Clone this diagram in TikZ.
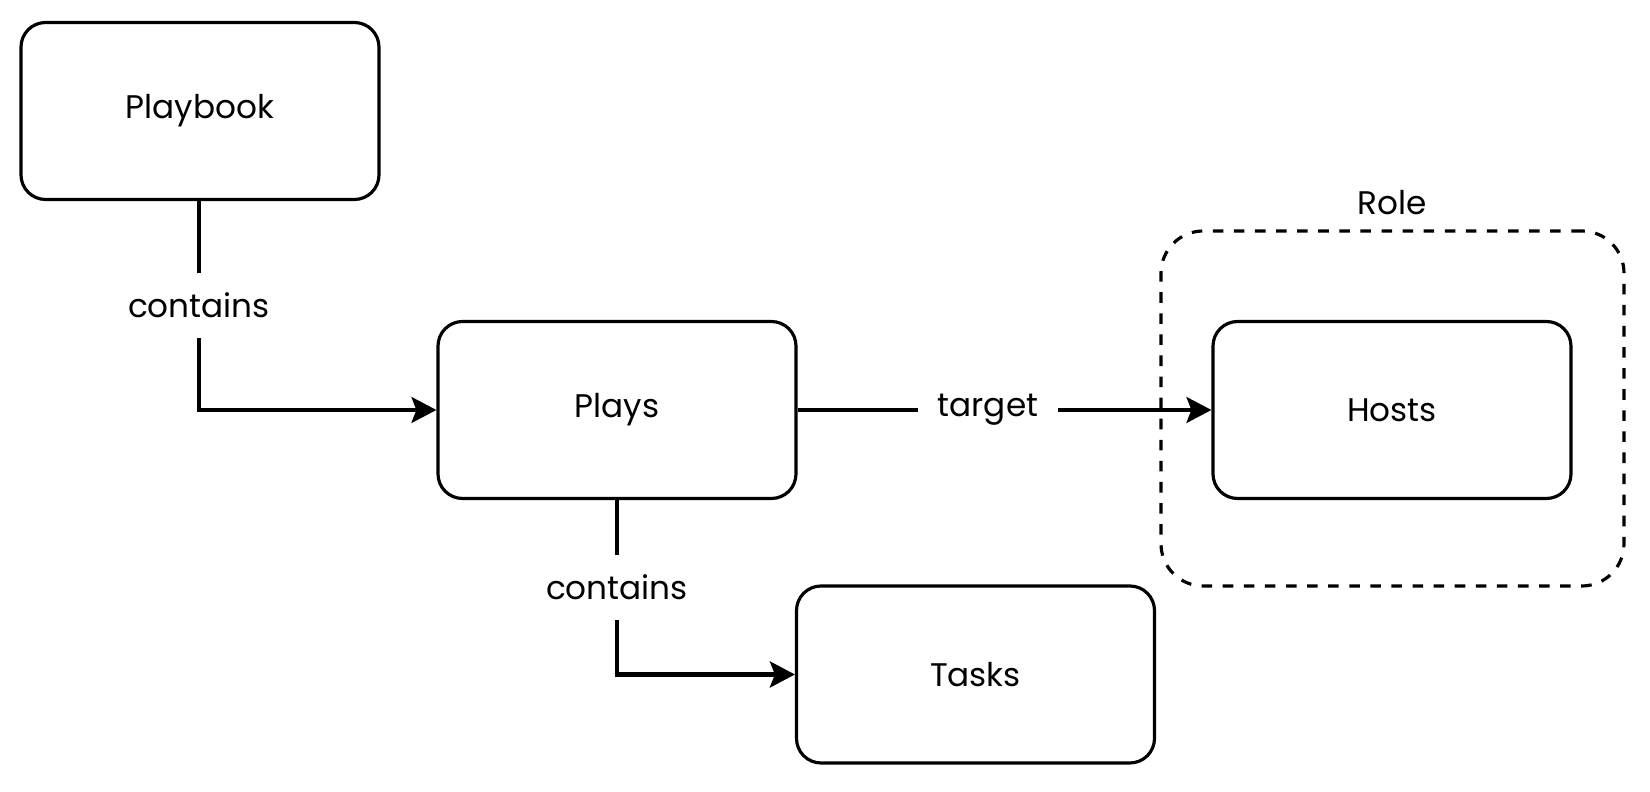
\documentclass[tikz,border=0pt]{standalone}
\usepackage{fontspec}
\setmainfont{Poppins}
\usepackage{tikz}
\usetikzlibrary{arrows.meta,positioning,calc}

\begin{document}
\begin{tikzpicture}[
  abox/.style={draw, line width=0.9pt, rounded corners=7pt, minimum width=3.58cm, minimum height=1.77cm,
               align=center, font=\fontsize{9.3}{11}\selectfont},
  rolebox/.style={draw, dashed, line width=0.9pt, rounded corners=12pt, minimum width=4.63cm, minimum height=3.55cm},
  lbl/.style={fill=white, inner sep=0.2cm, font=\fontsize{9.3}{11}\selectfont},
  arrow/.style={-{Stealth[length=2.5mm, width=2.6mm, inset=0.5mm]}, line width=0.9pt}
]
\useasboundingbox (0,0) rectangle (16.5,-7.92);
\node[abox] (playbook) at (2.00,-1.11) {Playbook};
\node[abox] (plays) at (6.17,-4.10) {Plays};
\node[rolebox] (role) at (13.925,-4.085) {};
\node[font=\fontsize{9.3}{11}\selectfont, above=0.02cm of role] (rolelbl) {Role};
\node[abox] (hosts) at (13.92,-4.10) {Hosts};
\node[abox] (tasks) at (9.755,-6.745) {Tasks};

\draw[arrow] (playbook.south -| 1.99,0) |- node[lbl, pos=0.25]{contains} (plays.west);
\draw[arrow] (plays) -- node[lbl, pos=0.46]{target} (hosts);
\draw[arrow, line width=1.2pt] (plays.south) |- node[lbl, pos=0.25]{contains} (tasks.west);
\end{tikzpicture}
\end{document}
